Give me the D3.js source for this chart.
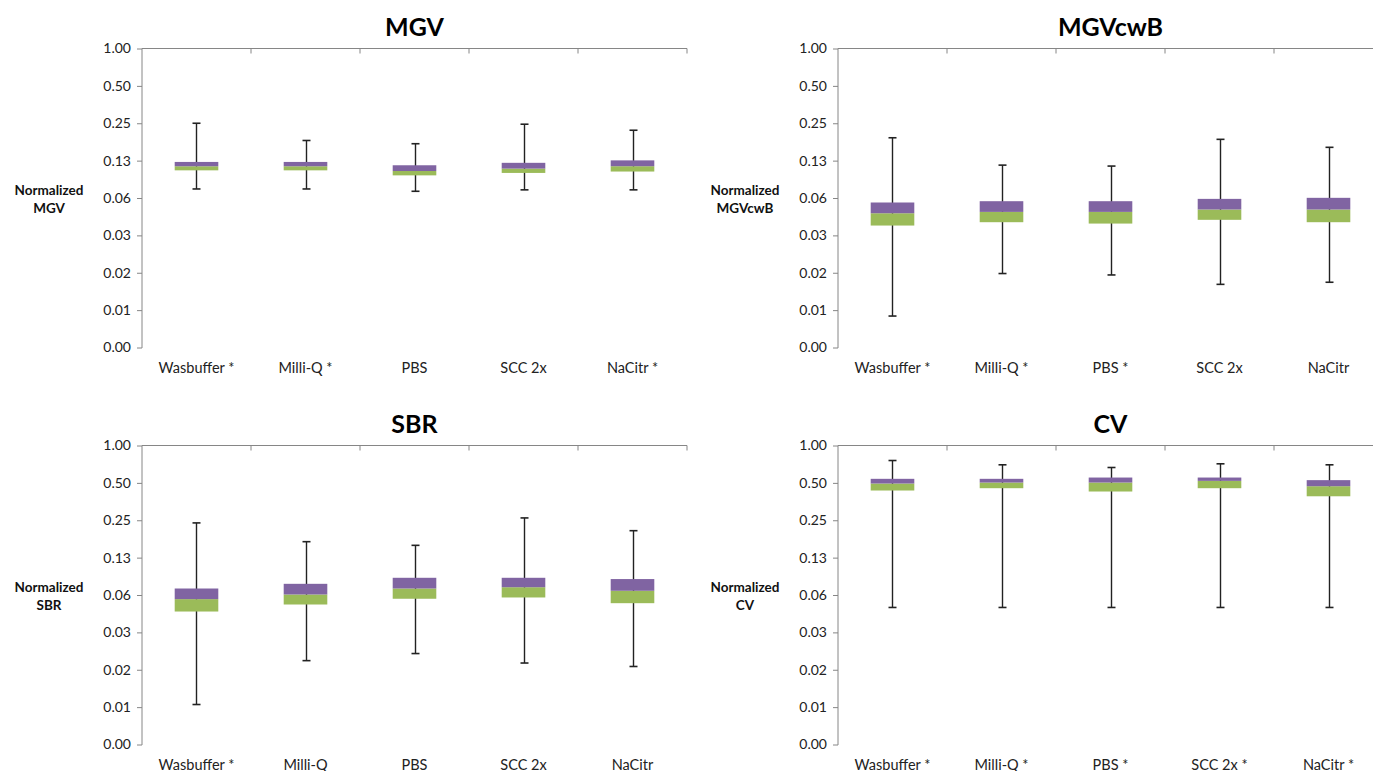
<!DOCTYPE html>
<html>
<head>
<meta charset="utf-8">
<script src="https://cdn.jsdelivr.net/npm/d3@7"></script>
<style>
  body { margin: 0; background: #fff; }
  svg { display: block; font-family: Lato, "Open Sans", sans-serif; }
</style>
</head>
<body>
<div id="chart"></div>
<script>
// tick values on the log2 axis and the labels Excel printed for them
let yTicks = [1/256, 1/128, 1/64, 1/32, 1/16, 1/8, 1/4, 1/2, 1];
let yTickLabels = ["0.00", "0.01", "0.02", "0.03", "0.06", "0.13", "0.25", "0.50", "1.00"];

// MGV
let mgvCategories = ["Wasbuffer *", "Milli-Q *", "PBS", "SCC 2x", "NaCitr *"];
let mgvMin = [0.0739, 0.0739, 0.0708, 0.0727, 0.0727];
let mgvQ1  = [0.1044, 0.1044, 0.0951, 0.0995, 0.1021];
let mgvMed = [0.1126, 0.1126, 0.1031, 0.1078, 0.1127];
let mgvQ3  = [0.1220, 0.1220, 0.1147, 0.1200, 0.1256];
let mgvMax = [0.2500, 0.1816, 0.1710, 0.2456, 0.2196];

// MGVcwB
let cwbCategories = ["Wasbuffer *", "Milli-Q *", "PBS *", "SCC 2x", "NaCitr"];
let cwbMin = [0.0070, 0.0154, 0.0150, 0.0126, 0.0131];
let cwbQ1  = [0.0375, 0.0399, 0.0389, 0.0417, 0.0399];
let cwbMed = [0.0471, 0.0483, 0.0483, 0.0505, 0.0505];
let cwbQ3  = [0.0575, 0.0589, 0.0589, 0.0615, 0.0627];
let cwbMax = [0.1910, 0.1150, 0.1130, 0.1855, 0.1600];

// SBR
let sbrCategories = ["Wasbuffer *", "Milli-Q", "PBS", "SCC 2x", "NaCitr"];
let sbrMin = [0.0082, 0.0185, 0.0211, 0.0177, 0.0166];
let sbrQ1  = [0.0460, 0.0524, 0.0583, 0.0597, 0.0537];
let sbrMed = [0.0579, 0.0631, 0.0705, 0.0722, 0.0676];
let sbrQ3  = [0.0705, 0.0769, 0.0860, 0.0860, 0.0840];
let sbrMax = [0.2380, 0.1680, 0.1570, 0.2610, 0.2060];

// CV
let cvCategories = ["Wasbuffer *", "Milli-Q *", "PBS *", "SCC 2x *", "NaCitr *"];
let cvMin = [0.0496, 0.0496, 0.0496, 0.0496, 0.0496];
let cvQ1  = [0.434, 0.453, 0.426, 0.453, 0.390];
let cvMed = [0.494, 0.503, 0.503, 0.519, 0.470];
let cvQ3  = [0.539, 0.539, 0.552, 0.552, 0.526];
let cvMax = [0.757, 0.699, 0.665, 0.712, 0.699];

let purple = "#8064a2",
    green = "#9bbb59",
    axisColor = "#868686";

let plotWidth = 545,
    plotHeight = 299;

let panels = [
  {title: "MGV", yLabel: "MGV", left: 142, top: 48.5, cats: mgvCategories,
   min: mgvMin, q1: mgvQ1, med: mgvMed, q3: mgvQ3, max: mgvMax},
  {title: "MGVcwB", yLabel: "MGVcwB", left: 838, top: 48.5, cats: cwbCategories,
   min: cwbMin, q1: cwbQ1, med: cwbMed, q3: cwbQ3, max: cwbMax},
  {title: "SBR", yLabel: "SBR", left: 142, top: 445.5, cats: sbrCategories,
   min: sbrMin, q1: sbrQ1, med: sbrMed, q3: sbrQ3, max: sbrMax},
  {title: "CV", yLabel: "CV", left: 838, top: 445.5, cats: cvCategories,
   min: cvMin, q1: cvQ1, med: cvMed, q3: cvQ3, max: cvMax}
];

let svg = d3.select("#chart").append("svg")
    .attr("width", 1373)
    .attr("height", 771);

panels.forEach(function(p) {
  let g = svg.append("g")
      .attr("transform", "translate(" + p.left + "," + p.top + ")");

  let x = d3.scaleBand()
      .domain(p.cats)
      .range([0, plotWidth])
      .paddingInner(0.6)
      .paddingOuter(0.3);
  let step = x.step();

  let y = d3.scaleLog()
      .base(2)
      .domain([1/256, 1])
      .range([plotHeight, 0]);

  let rows = p.cats.map(function(c, i) {
    return {cat: c, min: p.min[i], q1: p.q1[i], med: p.med[i], q3: p.q3[i], max: p.max[i]};
  });

  // title
  svg.append("text")
      .attr("x", p.left + plotWidth / 2)
      .attr("y", p.top - 13)
      .attr("text-anchor", "middle")
      .attr("font-size", 25)
      .attr("font-weight", "bold")
      .attr("fill", "#000")
      .text(p.title);

  // y axis title
  let yt = svg.append("text")
      .attr("text-anchor", "middle")
      .attr("font-size", 13.5)
      .attr("font-weight", "bold")
      .attr("fill", "#111");
  yt.append("tspan").attr("x", p.left - 93).attr("y", p.top + 146).text("Normalized");
  yt.append("tspan").attr("x", p.left - 93).attr("y", p.top + 164).text(p.yLabel);

  // left axis
  let yAxis = g.append("g")
      .call(d3.axisLeft(y)
        .tickValues(yTicks)
        .tickFormat(function(d, i) { return yTickLabels[i]; })
        .tickSize(5)
        .tickPadding(6));
  yAxis.select(".domain").attr("stroke", axisColor).attr("d", "M0,0V" + (plotHeight + 0.5));
  yAxis.selectAll(".tick line").attr("stroke", axisColor);
  yAxis.selectAll(".tick text")
      .attr("font-size", 14)
      .attr("font-family", "Lato, sans-serif")
      .attr("fill", "#222");

  // category axis sits on the top edge, ticks between categories
  g.append("line")
      .attr("x1", 0).attr("x2", plotWidth)
      .attr("y1", 0).attr("y2", 0)
      .attr("stroke", axisColor);
  g.selectAll(".cattick")
      .data(p.cats)
      .enter().append("line")
      .attr("x1", function(d) { return x(d) - x.paddingOuter() * step + step; })
      .attr("x2", function(d) { return x(d) - x.paddingOuter() * step + step; })
      .attr("y1", 0).attr("y2", 5)
      .attr("stroke", axisColor);

  // category labels below the plot
  g.selectAll(".catlabel")
      .data(p.cats)
      .enter().append("text")
      .attr("x", function(d) { return x(d) + x.bandwidth() / 2; })
      .attr("y", plotHeight + 25)
      .attr("text-anchor", "middle")
      .attr("font-size", 14.5)
      .attr("fill", "#222")
      .text(function(d) { return d; });

  let cx = function(d) { return Math.round(x(d.cat) + x.bandwidth() / 2) + 0.5; };

  // whiskers
  g.selectAll(".whisker")
      .data(rows)
      .enter().append("line")
      .attr("x1", cx).attr("x2", cx)
      .attr("y1", function(d) { return y(d.max); })
      .attr("y2", function(d) { return y(d.min); })
      .attr("stroke", "#222")
      .attr("stroke-width", 1.4);
  ["min", "max"].forEach(function(k) {
    g.selectAll(".cap-" + k)
        .data(rows)
        .enter().append("line")
        .attr("x1", function(d) { return cx(d) - 4; })
        .attr("x2", function(d) { return cx(d) + 4; })
        .attr("y1", function(d) { return y(d[k]); })
        .attr("y2", function(d) { return y(d[k]); })
        .attr("stroke", "#222")
        .attr("stroke-width", 1.6);
  });

  // lower box (q1..median) green, upper box (median..q3) purple
  g.selectAll(".lower")
      .data(rows)
      .enter().append("rect")
      .attr("x", function(d) { return x(d.cat); })
      .attr("width", x.bandwidth())
      .attr("y", function(d) { return y(d.med); })
      .attr("height", function(d) { return y(d.q1) - y(d.med); })
      .attr("fill", green);
  g.selectAll(".upper")
      .data(rows)
      .enter().append("rect")
      .attr("x", function(d) { return x(d.cat); })
      .attr("width", x.bandwidth())
      .attr("y", function(d) { return y(d.q3); })
      .attr("height", function(d) { return y(d.med) - y(d.q3); })
      .attr("fill", purple);
});
</script>
</body>
</html>
